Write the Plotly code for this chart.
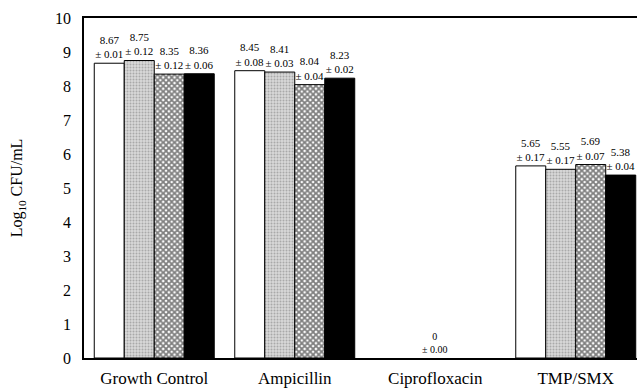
import plotly.graph_objects as go

categories = ["Growth Control", "Ampicillin", "Ciprofloxacin", "TMP/SMX"]
series_names = ["Condition 1", "Condition 2", "Condition 3", "Condition 4"]
means = [
    [8.67, 8.45, 0.0, 5.65],
    [8.75, 8.41, 0.0, 5.55],
    [8.35, 8.04, 0.0, 5.69],
    [8.36, 8.23, 0.0, 5.38],
]
sds = [
    [0.01, 0.08, 0.00, 0.17],
    [0.12, 0.03, 0.00, 0.17],
    [0.12, 0.04, 0.00, 0.07],
    [0.06, 0.02, 0.00, 0.04],
]
y_ticks = list(range(0, 11))

FONT = "Liberation Serif, Times New Roman, serif"

styles = [
    dict(color="white", pattern=dict(shape="")),
    dict(color="#d0d0d0", pattern=dict(shape=".", fgcolor="#7a7a7a", bgcolor="#d8d8d8", size=3, solidity=0.35)),
    dict(color="white", pattern=dict(shape="x", fgcolor="black", bgcolor="white", size=4, solidity=0.7)),
    dict(color="black", pattern=dict(shape="")),
]

fig = go.Figure()
for i, name in enumerate(series_names):
    texts = [f"{m:.2f}<br>± {s:.2f}" for m, s in zip(means[i], sds[i])]
    positions = ["none" if m == 0 else "outside" for m in means[i]]
    widths = [0 if m == 0 else 1 for m in means[i]]
    fig.add_trace(go.Bar(
        name=name,
        x=categories,
        y=means[i],
        text=texts,
        textposition=positions,
        textfont=dict(family=FONT, size=11, color="black"),
        cliponaxis=False,
        marker=dict(color=styles[i]["color"], pattern=styles[i]["pattern"],
                    line=dict(color="black", width=widths)),
    ))

# zero-value group label (Ciprofloxacin)
for j, c in enumerate(categories):
    if all(means[i][j] == 0 for i in range(4)):
        fig.add_annotation(x=c, y=0, text=f"{means[0][j]:.0f}<br>± {sds[0][j]:.2f}",
                           showarrow=False, yanchor="bottom", yshift=1,
                           font=dict(family=FONT, size=10, color="black"))

fig.update_layout(
    width=637, height=388,
    margin=dict(l=84, r=0, t=18, b=28),
    paper_bgcolor="white", plot_bgcolor="white",
    barmode="group", bargap=0.146, bargroupgap=0,
    showlegend=False,
    uniformtext=dict(mode=False),
    font=dict(family=FONT, color="black"),
)
fig.update_xaxes(
    range=[-0.5, 3.436], showline=True, linecolor="black", linewidth=1.5,
    mirror=True, ticks="", ticklabelstandoff=4,
    tickfont=dict(family=FONT, size=17, color="black"),
    showgrid=False,
)
fig.update_yaxes(
    range=[0, 10], tickvals=y_ticks, showline=True, linecolor="black", linewidth=1.5,
    ticks="", showgrid=False, zeroline=False, ticklabelstandoff=8,
    tickfont=dict(family=FONT, size=16, color="black"),
    title=dict(text="Log<sub>10</sub> CFU/mL", font=dict(family=FONT, size=16, color="black"), standoff=28),
)

fig.write_html("out.html", config={"displayModeBar": False},
               post_script="document.body.style.margin='0';document.body.style.padding='0';")
